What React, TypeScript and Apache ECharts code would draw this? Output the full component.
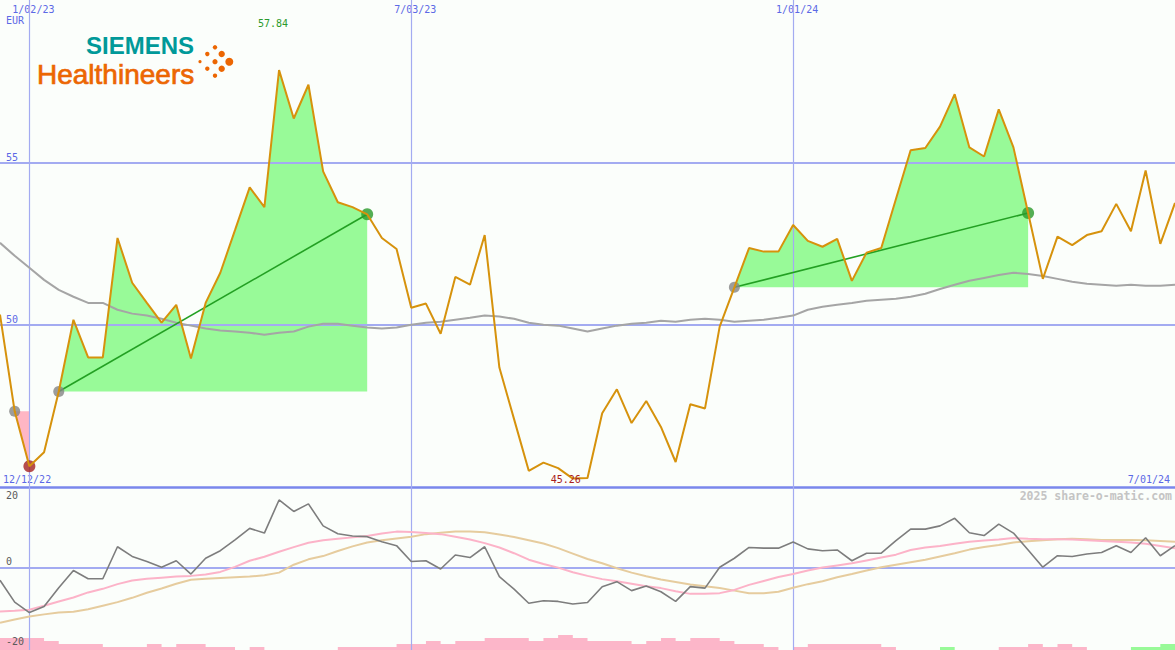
import React, { useEffect, useRef } from 'react';
import * as echarts from 'echarts';

// week index 1 = 12/19/22 ... 81 = 7/01/24 (one point per week)
const tickIdx = [3, 29, 55];
const tickLabels = ['1/02/23', '7/03/23', '1/01/24'];
const rangeLabels = ['12/12/22', '7/01/24'];
const priceLines = [50, 55];

const price = [
  50.31, 47.33, 45.64, 46.07, 47.94, 50.15, 48.99, 48.99, 52.67, 51.29,
  50.67, 50.06, 50.61, 48.96, 50.67, 51.6, 52.91, 54.23, 53.62, 57.84,
  56.35, 57.39, 54.72, 53.77, 53.62, 53.4, 52.67, 52.33, 50.52, 50.65,
  49.72, 51.47, 51.23, 52.76, 48.68, 47.09, 45.5, 45.75, 45.58, 45.26,
  45.28, 47.27, 48.01, 46.97, 47.65, 46.85, 45.77, 47.55, 47.42, 49.94,
  51.15, 52.36, 52.25, 52.25, 53.07, 52.58, 52.4, 52.64, 51.35, 52.22,
  52.36, 53.87, 55.37, 55.44, 56.1, 57.1, 55.46, 55.18, 56.63, 55.46,
  53.44, 51.41, 52.71, 52.45, 52.76, 52.88, 53.72, 52.88, 54.75, 52.49, 53.75,
];

const avg = [
  52.52, 52.12, 51.75, 51.38, 51.07, 50.86, 50.67, 50.67, 50.46, 50.34,
  50.28, 50.18, 50.06, 49.97, 49.88, 49.82, 49.79, 49.75, 49.69, 49.75,
  49.79, 49.94, 50.03, 50.03, 49.97, 49.91, 49.88, 49.91, 50.0, 50.06,
  50.09, 50.15, 50.21, 50.28, 50.25, 50.18, 50.06, 50.0, 49.97, 49.88,
  49.79, 49.88, 49.97, 50.03, 50.06, 50.12, 50.09, 50.15, 50.18, 50.15,
  50.09, 50.12, 50.15, 50.21, 50.28, 50.46, 50.55, 50.61, 50.67, 50.74,
  50.77, 50.8, 50.86, 50.95, 51.1, 51.23, 51.35, 51.44, 51.53, 51.6,
  51.56, 51.5, 51.41, 51.32, 51.26, 51.23, 51.2, 51.23, 51.2, 51.2, 51.23,
];

const momentum = [
  -3.5, -9.6, -12.5, -10.8, -5.6, -0.8, -3.1, -3.1, 5.8, 3.1,
  1.7, 0.1, 1.9, -1.8, 2.6, 4.7, 7.7, 10.9, 9.6, 18.8,
  15.6, 17.7, 11.6, 9.4, 8.8, 8.6, 7.2, 6.1, 1.7, 1.9,
  -0.4, 3.5, 2.8, 5.8, -2.5, -6.0, -9.9, -9.2, -9.4, -10.1,
  -9.7, -5.3, -3.9, -6.4, -5.1, -6.7, -9.4, -5.3, -5.7, 0.1,
  2.6, 5.6, 5.4, 5.4, 7.1, 5.2, 4.7, 4.9, 1.9, 4.0,
  4.0, 7.5, 10.7, 10.7, 11.6, 13.7, 9.7, 8.9, 12.1, 9.6,
  4.9, 0.1, 3.3, 3.1, 3.8, 4.2, 6.1, 4.2, 8.3, 3.3, 6.1,
];

const fastAvg = [
  -12.2, -12.0, -11.7, -10.6, -9.4, -8.3, -6.9, -5.9, -4.6, -3.6,
  -3.1, -2.8, -2.5, -2.3, -1.9, -1.2, 0.2, 1.9, 3.0, 4.4,
  5.7, 6.9, 7.6, 8.0, 8.4, 8.8, 9.5, 10.0, 9.9, 9.6,
  9.3, 8.6, 7.8, 6.8, 5.6, 4.0, 2.2, 1.0, 0.0, -1.3,
  -2.3, -3.2, -3.8, -4.5, -5.2, -5.7, -6.6, -7.3, -7.3, -7.1,
  -6.2, -4.8, -3.7, -2.6, -1.8, -0.8, 0.0, 0.6, 1.2, 2.0,
  2.8, 3.6, 4.9, 5.6, 6.0, 6.6, 7.2, 7.5, 7.8, 8.2,
  8.0, 7.9, 7.9, 7.8, 7.6, 7.4, 7.2, 7.0, 6.6, 6.0, 5.4,
];

const slowAvg = [
  -15.3, -14.4, -13.6, -13.0, -12.5, -12.3, -11.6, -10.6, -9.6, -8.4,
  -7.0, -5.8, -4.5, -3.4, -3.1, -2.9, -2.7, -2.5, -2.1, -1.4,
  0.8, 2.3, 3.2, 4.6, 5.9, 7.0, 7.6, 8.1, 8.6, 9.3,
  9.7, 10.0, 10.0, 9.8, 9.2, 8.5, 7.6, 6.7, 5.4, 3.9,
  2.4, 1.2, -0.2, -1.4, -2.4, -3.3, -4.0, -4.7, -5.2, -5.7,
  -6.4, -7.1, -7.1, -6.7, -5.6, -4.6, -3.8, -2.7, -1.8, -0.8,
  0.1, 0.8, 1.5, 2.2, 3.1, 4.0, 5.0, 5.7, 6.3, 7.0,
  7.3, 7.6, 7.9, 8.0, 7.9, 7.7, 7.7, 7.7, 7.6, 7.4, 7.2,
];

// signed histogram levels (negative = pink, positive = green)
const flow = [
  -4, -4, -4, -4, -3, -2, -2, -2, -1, -1,
  -1, -2, -1, -2, -2, -1, -1, 0, -1, 0,
  0, 0, 0, 0, -1, -1, -1, -1, -2, -2,
  -3, -2, -3, -3, -4, -4, -4, -3, -4, -5,
  -4, -3, -3, -3, -2, -3, -4, -3, -4, -4,
  -3, -2, -2, -1, 0, -1, -2, -2, -2, -2,
  -2, -1, 0, 0, 0, 1, 0, 0, 0, -1,
  -1, -2, -1, -2, -1, 0, 0, 0, 1, 1, 2,
];

// signal runs: [start week index, end week index]
const upRuns = [[5, 26], [51, 71]];
const downRuns = [[2, 3]];

const idx = price.map((_, k) => k + 1);
const pairs = (vals: number[]) => vals.map((v, k) => [idx[k], v]);
const span = (vals: number[], a: number, b: number) => pairs(vals).slice(a - 1, b);

const BLUE = '#5b69e6';
const GRID = '#a3abf1';
const MONO = '"DejaVu Sans Mono", monospace';

function buildOption() {
  const gridMarks = (ys: number[]) => ({
    silent: true,
    symbol: 'none',
    z: 2,
    label: { show: false },
    emphasis: { disabled: true },
    lineStyle: { color: GRID, width: 1.2, type: 'solid' },
    data: [
      ...tickIdx.map((v) => ({ xAxis: v })),
      ...ys.map((v) => ({ yAxis: v, lineStyle: { color: GRID, width: 2, type: 'solid' } })),
    ],
  });

  const series: any[] = [];
  downRuns.forEach(([a, b]) => {
    series.push({
      type: 'line', xAxisIndex: 0, yAxisIndex: 0, data: span(price, a, b), symbol: 'none', silent: true,
      lineStyle: { width: 0, opacity: 0 }, areaStyle: { origin: price[a - 1], color: '#ffb6c4', opacity: 1 }, z: 1,
    });
  });
  upRuns.forEach(([a, b]) => {
    series.push({
      type: 'line', xAxisIndex: 0, yAxisIndex: 0, data: span(price, a, b), symbol: 'none', silent: true,
      lineStyle: { width: 0, opacity: 0 }, areaStyle: { origin: price[a - 1], color: '#98fa98', opacity: 1 }, z: 1,
    });
  });
  series.push({
    type: 'line', xAxisIndex: 0, yAxisIndex: 0, data: pairs(avg), symbol: 'none', silent: true,
    lineStyle: { color: '#a5a5a5', width: 2 }, z: 3, markLine: gridMarks(priceLines),
  });
  upRuns.forEach(([a, b]) => {
    series.push({
      type: 'line', xAxisIndex: 0, yAxisIndex: 0, symbol: 'none', silent: true,
      data: [[a, price[a - 1]], [b, price[b - 1]]],
      lineStyle: { color: '#23a023', width: 1.6 }, z: 4,
    });
  });
  series.push({
    type: 'scatter', xAxisIndex: 0, yAxisIndex: 0, symbolSize: 11, silent: true, z: 4,
    itemStyle: { color: '#858585' },
    data: [...downRuns, ...upRuns].map(([a]) => [a, price[a - 1]]),
  });
  series.push({
    type: 'scatter', xAxisIndex: 0, yAxisIndex: 0, symbolSize: 12, silent: true, z: 4,
    itemStyle: { color: '#2a9a2a' },
    data: upRuns.map(([, b]) => [b, price[b - 1]]),
  });
  series.push({
    type: 'scatter', xAxisIndex: 0, yAxisIndex: 0, symbolSize: 12, silent: true, z: 4,
    itemStyle: { color: '#a52222' },
    data: downRuns.map(([, b]) => [b, price[b - 1]]),
  });
  const fmt = (p: any) => {
    const v = Array.isArray(p.value) ? p.value[1] : p.value;
    return Number(v).toFixed(2);
  };
  series.push({
    type: 'line', xAxisIndex: 0, yAxisIndex: 0, data: pairs(price), symbol: 'none', silent: true,
    lineStyle: { color: '#d6920c', width: 2 }, z: 6,
    markPoint: {
      symbol: 'circle', symbolSize: 0, silent: true, z: 7,
      data: [
        { type: 'max', valueDim: 'y', label: { show: true, position: 'inside', formatter: fmt, color: '#2b9a2b', fontFamily: MONO, fontSize: 10, offset: [-6, -47] } },
        { type: 'min', valueDim: 'y', label: { show: true, position: 'inside', formatter: fmt, color: '#a82020', fontFamily: MONO, fontSize: 10, offset: [-7, 1] } },
      ],
    },
  });

  // lower panel
  series.push({
    type: 'line', xAxisIndex: 1, yAxisIndex: 2, step: 'start', data: pairs(flow.map((v) => (v < 0 ? -v : 0))),
    symbol: 'none', silent: true, lineStyle: { width: 0, opacity: 0 }, areaStyle: { color: '#fcb6c9', opacity: 1 }, z: 1,
  });
  series.push({
    type: 'line', xAxisIndex: 1, yAxisIndex: 2, step: 'start', data: pairs(flow.map((v) => (v > 0 ? v : 0))),
    symbol: 'none', silent: true, lineStyle: { width: 0, opacity: 0 }, areaStyle: { color: '#98fa98', opacity: 1 }, z: 1,
  });
  series.push({
    type: 'line', xAxisIndex: 1, yAxisIndex: 1, data: pairs(slowAvg), symbol: 'none', silent: true,
    lineStyle: { color: '#e6cc9e', width: 2 }, z: 3,
  });
  series.push({
    type: 'line', xAxisIndex: 1, yAxisIndex: 1, data: pairs(fastAvg), symbol: 'none', silent: true,
    lineStyle: { color: '#fcb3c8', width: 2 }, z: 3,
  });
  series.push({
    type: 'line', xAxisIndex: 1, yAxisIndex: 1, data: pairs(momentum), symbol: 'none', silent: true,
    lineStyle: { color: '#7d7d7d', width: 1.6 }, z: 4, markLine: gridMarks([0]),
  });

  const dots = [
    [215, 47.3, 2.2], [207.3, 54, 2.2], [221.7, 54, 3.2], [200, 61.7, 1.6], [215, 61.7, 2.6],
    [229.3, 61.7, 4], [207.3, 68.7, 2.2], [221.7, 68.7, 3.2], [215, 75.7, 2.2],
  ];

  return {
    animation: false,
    backgroundColor: '#fbfefb',
    grid: [
      { left: 0, right: 0, top: -2, height: 489 },
      { left: 0, right: 0, top: 487, height: 163 },
    ],
    xAxis: [
      {
        gridIndex: 0, type: 'value', min: 1, max: 81, position: 'top',
        axisLine: { show: false }, axisTick: { show: false }, splitLine: { show: false },
        axisLabel: {
          inside: true, margin: 4, customValues: tickIdx, verticalAlign: 'top',
          formatter: (v: number) => tickLabels[tickIdx.indexOf(v)] ?? '',
          color: BLUE, fontFamily: MONO, fontSize: 10, padding: [0, 0, 0, 8],
        },
      },
      {
        gridIndex: 1, type: 'value', min: 1, max: 81, position: 'top',
        axisLine: { show: true, onZero: false, lineStyle: { color: '#7a87ec', width: 2.5 } },
        axisTick: { show: false }, axisLabel: { show: false }, splitLine: { show: false },
      },
    ],
    yAxis: [
      {
        gridIndex: 0, type: 'value', min: 45, max: 60, interval: 5,
        axisLine: { show: false }, axisTick: { show: false }, splitLine: { show: false },
        axisLabel: {
          inside: true, margin: 6, showMinLabel: false, showMaxLabel: false, verticalAlign: 'bottom',
          color: BLUE, fontFamily: MONO, fontSize: 10,
        },
      },
      {
        gridIndex: 1, type: 'value', min: -22.9, max: 22.4, z: 10,
        axisLine: { show: false }, axisTick: { show: false }, splitLine: { show: false },
        axisLabel: {
          inside: true, margin: 6, customValues: [-20, 0, 20], verticalAlign: 'middle',
          color: '#5a5a5a', fontFamily: MONO, fontSize: 10,
          formatter: (v: number) => (v === 0 ? '{up|0}' : v < 0 ? `{down|${v}}` : String(v)),
          rich: {
            up: { padding: [0, 0, 12, 0], color: '#5a5a5a', fontFamily: MONO, fontSize: 10 },
            down: { padding: [4, 0, 0, 0], color: '#5a5a5a', fontFamily: MONO, fontSize: 10 },
          },
        },
      },
      { gridIndex: 1, type: 'value', min: 0, max: 54.33, show: false },
    ],
    graphic: [
      { type: 'text', x: 6, y: 20, style: { text: 'EUR', fill: BLUE, font: `10px ${MONO}`, verticalAlign: 'middle' } },
      { type: 'text', x: 3, y: 479, style: { text: rangeLabels[0], fill: BLUE, font: `10px ${MONO}`, verticalAlign: 'middle' } },
      { type: 'text', x: 1170, y: 479, style: { text: rangeLabels[1], fill: BLUE, font: `10px ${MONO}`, align: 'right', verticalAlign: 'middle' } },
      { type: 'text', x: 1172, y: 496, z: 10, style: { text: '2025 share-o-matic.com', fill: '#c4c4c4', font: `bold 11.5px ${MONO}`, align: 'right', verticalAlign: 'middle' } },
      { type: 'text', x: 86, y: 45, z: 10, style: { text: 'SIEMENS', fill: '#009999', font: 'bold 24px "Liberation Sans", Arial, sans-serif', lineHeight: 18, verticalAlign: 'middle' } },
      { type: 'text', x: 37, y: 74, z: 10, style: { text: 'Healthineers', fill: '#ec6602', stroke: '#ec6602', lineWidth: 0.7, font: '28px "Liberation Sans", Arial, sans-serif', lineHeight: 22, verticalAlign: 'middle' } },
      ...dots.map(([cx, cy, r]) => ({ type: 'circle', z: 10, shape: { cx, cy, r }, style: { fill: '#ec6602' } })),
    ],
    series,
  };
}

export default function App() {
  const ref = useRef<HTMLDivElement>(null);
  useEffect(() => {
    if (!ref.current) return;
    const chart = echarts.init(ref.current, null, { renderer: 'svg' });
    chart.setOption(buildOption() as any);
    return () => chart.dispose();
  }, []);
  return <div ref={ref} style={{ position: 'fixed', left: 0, top: 0, width: 1175, height: 650 }} />;
}
